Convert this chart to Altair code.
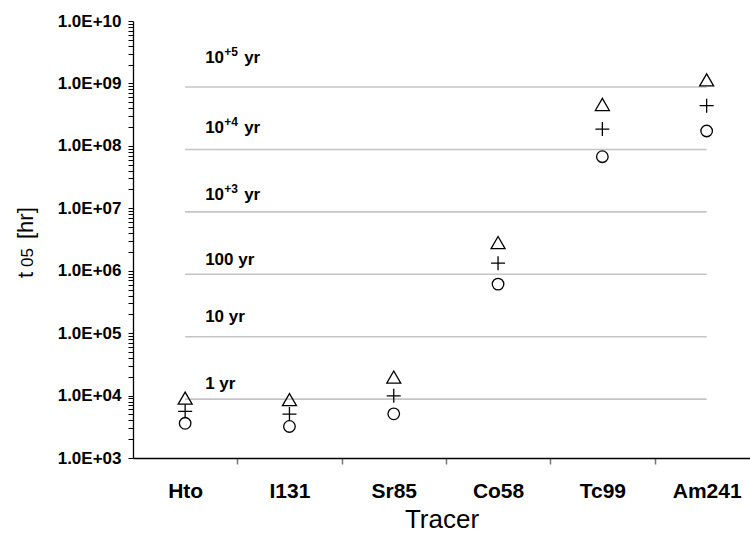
import json
import altair as alt
import pandas as pd

FONT = "Liberation Sans"

# Tracers and their t05 times in hours (upper, central and lower estimates)
tracers = ["Hto", "I131", "Sr85", "Co58", "Tc99", "Am241"]
t05_upper = [9100, 8600, 19800, 2.82e6, 4.6e8, 1.14e9]
t05_mid = [5600, 5050, 9900, 1.32e6, 1.86e8, 4.4e8]
t05_lower = [3600, 3200, 5100, 6.1e5, 6.7e7, 1.73e8]

# Reference durations drawn as horizontal guide lines
ref_years = [1, 10, 100, 1000, 10000, 100000]
ref_main = ["1 yr", "10 yr", "100 yr", "10", "10", "10"]
ref_sup = ["", "", "", "+3", "+4", "+5"]
ref_tail = ["", "", "", "yr", "yr", "yr"]
HOURS_PER_YEAR = 8760

# Layout: how far (px) each guide label's baseline sits above its line
LABEL_LIFT = [10, 15, 9, 12, 16, 24]

pos = list(range(1, len(tracers) + 1))
bounds = [(a + b) / 2 for a, b in zip(pos[:-1], pos[1:])]

pts = pd.DataFrame({
    "pos": pos * 3,
    "tracer": tracers * 3,
    "t05": t05_upper + t05_mid + t05_lower,
    "est": ["upper"] * len(pos) + ["mid"] * len(pos) + ["lower"] * len(pos),
})

refs = pd.DataFrame({
    "hours": [y * HOURS_PER_YEAR for y in ref_years],
    "main": ref_main,
    "sup": ref_sup,
    "tail": ref_tail,
    "xs": [pos[0]] * len(ref_years),
    "xe": [pos[-1]] * len(ref_years),
    "lift": LABEL_LIFT,
})

W, H = 617, 437
DECADES = 7
PX_PER_DECADE = H / DECADES
xscale = alt.Scale(domain=[0.5, 0.5 + W / 104.3], nice=False, zero=False)
yscale = alt.Scale(type="log", domain=[1e3, 1e10], nice=False)

y_values = [m * 10 ** e for e in range(3, 10) for m in range(1, 10)] + [1e10]
y_label = (
    "abs(log(datum.value)/LN10 - round(log(datum.value)/LN10)) < 0.001 ? "
    "'1.0E+' + (round(log(datum.value)/LN10) < 10 ? '0' : '') + round(log(datum.value)/LN10) : ''"
)
y_axis = alt.Axis(
    values=y_values, labelExpr=y_label, title=None, grid=False, orient="left",
    tickSize=5, tickColor="black", tickWidth=1,
    domainColor="black", domainWidth=1.3,
    labelFont=FONT, labelFontSize=17, labelFontWeight="bold", labelColor="black",
    labelPadding=7,
)

x_label_axis = alt.Axis(
    values=pos, labelExpr=json.dumps(tracers) + "[datum.value - 1]",
    ticks=False, grid=False, orient="bottom", labelAngle=0,
    domainColor="black", domainWidth=1.3,
    labelFont=FONT, labelFontSize=21, labelFontWeight="bold", labelColor="black",
    labelPadding=22,
    title="Tracer", titleFont=FONT, titleFontSize=26, titleFontWeight="normal",
    titleColor="black", titlePadding=5,
)
x_tick_axis = alt.Axis(
    values=bounds, labels=False, domain=False, grid=False, orient="bottom",
    tickSize=6, tickColor="#777777", tickWidth=1.5, title=None,
)

guides = alt.Chart(refs).mark_rule(color="#c4c4c4", strokeWidth=1.6).encode(
    x=alt.X("xs:Q", scale=xscale, axis=x_tick_axis),
    x2="xe:Q",
    y=alt.Y("hours:Q", scale=yscale, axis=y_axis),
)

def markers(est, shape, size):
    return alt.Chart(pts).transform_filter(alt.datum.est == est).mark_point(
        shape=shape, size=size, filled=False, color="black", strokeWidth=1.3, opacity=1
    ).encode(
        x=alt.X("pos:Q", scale=xscale, axis=x_label_axis if est == "upper" else None),
        y=alt.Y("t05:Q", scale=yscale, axis=y_axis),
    )

tri = markers("upper", "triangle-up", 196)
plus = markers("mid", "M-1,0L1,0M0,-1L0,1", 196)
circ = markers("lower", "circle", 133)

def ref_text(field, dx, dy, size):
    return alt.Chart(refs).transform_calculate(
        label_at=f"datum.hours * pow(10, datum.lift / {PX_PER_DECADE})"
    ).mark_text(
        align="left", baseline="alphabetic", dx=dx, dy=dy,
        font=FONT, fontSize=size, fontWeight="bold", color="black",
    ).encode(
        x=alt.X("xs:Q", scale=xscale, axis=None),
        y=alt.Y("label_at:Q", scale=yscale, axis=y_axis),
        text=f"{field}:N",
    )

lab_main = ref_text("main", 20, 0, 17)
lab_sup = ref_text("sup", 39, -7, 12)
lab_tail = ref_text("tail", 59, 0, 17)

one = pd.DataFrame({"k": [0]})

def title_part(txt, ypix, size):
    return alt.Chart(one).mark_text(
        text=txt, angle=270, align="left", baseline="alphabetic",
        font=FONT, fontSize=size, color="black",
    ).encode(x=alt.value(-100), y=alt.value(ypix))

y_title = title_part("t", 257, 22) + title_part("05", 246, 17) + title_part("[hr]", 218, 22)

chart = alt.layer(
    guides, tri, plus, circ, lab_main, lab_sup, lab_tail, y_title
).resolve_axis(x="independent").properties(
    width=W, height=H,
    autosize=alt.AutoSizeParams(type="none"),
    padding={"left": 133, "top": 21, "right": 0, "bottom": 89},
    background="white",
).configure_view(stroke=None)

chart.save("out.html", embed_options={"renderer": "svg", "actions": False})
